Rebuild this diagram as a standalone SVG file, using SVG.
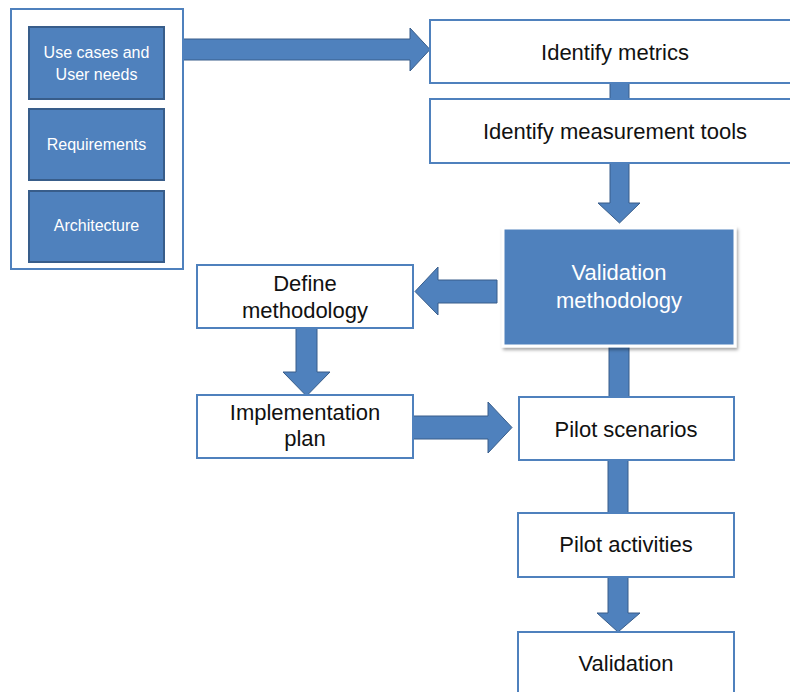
<svg xmlns="http://www.w3.org/2000/svg" width="790" height="692" viewBox="0 0 790 692">
  <style>
    .box { fill: #ffffff; stroke: #4f81bd; stroke-width: 2; }
    .inner { fill: #4f81bd; stroke: #385d8a; stroke-width: 2; }
    .arrow { fill: #4f81bd; stroke: #385d8a; stroke-width: 1; stroke-linejoin: miter; }
    .lbl { font-family: "Liberation Sans", Arial, sans-serif; font-size: 22px; fill: #111111; text-anchor: middle; }
    .wlbl { font-family: "Liberation Sans", Arial, sans-serif; font-size: 22px; fill: #ffffff; text-anchor: middle; }
    .slbl { font-family: "Liberation Sans", Arial, sans-serif; font-size: 16px; fill: #ffffff; text-anchor: middle; }
  </style>
  <defs>
    <filter id="shadow" x="-10%" y="-10%" width="125%" height="130%">
      <feDropShadow dx="1.5" dy="2.5" stdDeviation="1.5" flood-color="#000000" flood-opacity="0.35"/>
    </filter>
  </defs>
  <rect width="790" height="692" fill="#ffffff"/>

  <!-- block arrows between steps -->
  <g id="connectors">
    <polygon class="arrow" points="182,39 410,39 410,28 430,49.5 410,71 410,60 182,60"/>
    <polygon class="arrow" points="610,80 629,80 629,102 610,102"/>
    <polygon class="arrow" points="610,160 629,160 629,203 640,203 619.5,223 598,203 610,203"/>
    <polygon class="arrow" points="497,280 438,280 438,267 415,291.5 438,315 438,303 497,303"/>
    <polygon class="arrow" points="296,326 317,326 317,372 330,372 306.5,396 283,372 296,372"/>
    <polygon class="arrow" points="413,416 488,416 488,402 512,427.5 488,453 488,439 413,439"/>
    <polygon class="arrow" points="609,340 629,340 629,400 609,400"/>
    <polygon class="arrow" points="608,458 628,458 628,516 608,516"/>
    <polygon class="arrow" points="608,575 628,575 628,613 640,613 618,632 597,613 608,613"/>
  </g>

  <!-- inputs container -->
  <g id="inputs">
    <rect class="box" x="11" y="9" width="172" height="260"/>
    <g id="use-cases">
      <rect class="inner" x="29" y="27" width="135" height="72"/>
      <text class="slbl" x="96.5" y="58">Use cases and</text>
      <text class="slbl" x="96.5" y="80">User needs</text>
    </g>
    <g id="requirements">
      <rect class="inner" x="29" y="109" width="135" height="71"/>
      <text class="slbl" x="96.5" y="150">Requirements</text>
    </g>
    <g id="architecture">
      <rect class="inner" x="29" y="191" width="135" height="71"/>
      <text class="slbl" x="96.5" y="231">Architecture</text>
    </g>
  </g>

  <g id="identify-metrics">
    <rect class="box" x="430" y="20" width="370" height="63"/>
    <text class="lbl" x="615" y="60">Identify metrics</text>
  </g>

  <g id="identify-tools">
    <rect class="box" x="430" y="99" width="370" height="64"/>
    <text class="lbl" x="615" y="139">Identify measurement tools</text>
  </g>

  <g id="validation-methodology">
    <rect x="503" y="228" width="232" height="118" fill="#4f81bd" stroke="#ffffff" stroke-width="3" filter="url(#shadow)"/>
    <text class="wlbl" x="619" y="280">Validation</text>
    <text class="wlbl" x="619" y="308">methodology</text>
  </g>

  <g id="define-methodology">
    <rect class="box" x="197" y="265" width="216" height="63"/>
    <text class="lbl" x="305" y="291">Define</text>
    <text class="lbl" x="305" y="318">methodology</text>
  </g>

  <g id="implementation-plan">
    <rect class="box" x="197" y="395" width="216" height="63"/>
    <text class="lbl" x="305" y="420">Implementation</text>
    <text class="lbl" x="305" y="446">plan</text>
  </g>

  <g id="pilot-scenarios">
    <rect class="box" x="519" y="397" width="215" height="63"/>
    <text class="lbl" x="626" y="437">Pilot scenarios</text>
  </g>

  <g id="pilot-activities">
    <rect class="box" x="518" y="513" width="216" height="64"/>
    <text class="lbl" x="626" y="552">Pilot activities</text>
  </g>

  <g id="validation">
    <rect class="box" x="518" y="632" width="216" height="70"/>
    <text class="lbl" x="626" y="671">Validation</text>
  </g>
</svg>
